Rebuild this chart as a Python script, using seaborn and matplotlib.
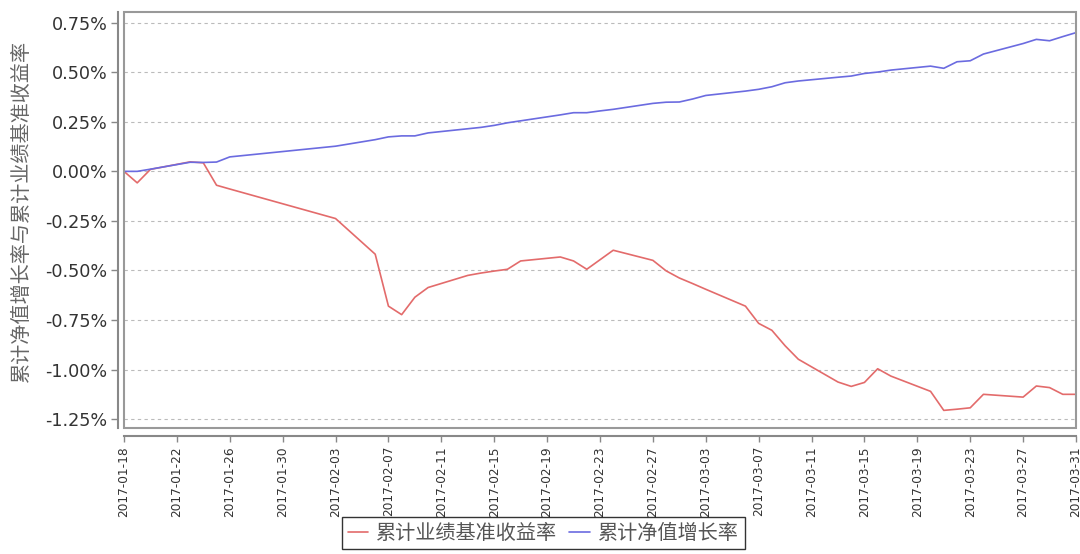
import pandas as pd
import matplotlib
matplotlib.use('Agg')
import matplotlib.pyplot as plt
import matplotlib.dates as mdates
from matplotlib.patches import Rectangle
import seaborn as sns

# trading days shown in the chart
dates = [
    '2017-01-18', '2017-01-19', '2017-01-20', '2017-01-23', '2017-01-24', '2017-01-25', '2017-01-26',
    '2017-02-03', '2017-02-06', '2017-02-07', '2017-02-08', '2017-02-09', '2017-02-10',
    '2017-02-13', '2017-02-14', '2017-02-15', '2017-02-16', '2017-02-17',
    '2017-02-20', '2017-02-21', '2017-02-22', '2017-02-23', '2017-02-24',
    '2017-02-27', '2017-02-28', '2017-03-01', '2017-03-02', '2017-03-03',
    '2017-03-06', '2017-03-07', '2017-03-08', '2017-03-09', '2017-03-10',
    '2017-03-13', '2017-03-14', '2017-03-15', '2017-03-16', '2017-03-17',
    '2017-03-20', '2017-03-21', '2017-03-22', '2017-03-23', '2017-03-24',
    '2017-03-27', '2017-03-28', '2017-03-29', '2017-03-30', '2017-03-31',
]

# cumulative benchmark return (%)
benchmark = [
    0.000, -0.058, 0.010, 0.048, 0.043, -0.070, -0.089,
    -0.238, -0.418, -0.680, -0.723, -0.635, -0.586,
    -0.525, -0.513, -0.503, -0.494, -0.452,
    -0.432, -0.452, -0.494, -0.446, -0.398,
    -0.449, -0.502, -0.538, -0.566, -0.595,
    -0.680, -0.767, -0.802, -0.880, -0.948,
    -1.063, -1.085, -1.065, -0.996, -1.033,
    -1.110, -1.206, -1.200, -1.193, -1.125,
    -1.139, -1.083, -1.091, -1.125, -1.125,
]

# cumulative NAV growth (%)
nav_growth = [
    0.000, 0.000, 0.011, 0.046, 0.045, 0.047, 0.073,
    0.127, 0.160, 0.174, 0.179, 0.179, 0.194,
    0.215, 0.222, 0.232, 0.245, 0.255,
    0.285, 0.296, 0.296, 0.305, 0.313,
    0.343, 0.349, 0.350, 0.365, 0.383,
    0.405, 0.414, 0.427, 0.447, 0.456,
    0.475, 0.481, 0.494, 0.501, 0.511,
    0.531, 0.520, 0.553, 0.558, 0.592,
    0.645, 0.666, 0.659, 0.680, 0.700,
]

series_names = ['累计业绩基准收益率', '累计净值增长率']
y_ticks = [0.75, 0.50, 0.25, 0.00, -0.25, -0.50, -0.75, -1.00, -1.25]

sns.set_style('white')
plt.rcParams['font.family'] = ['DejaVu Sans', 'Noto Sans CJK SC']

df = pd.DataFrame({
    'date': pd.to_datetime(dates * 2),
    'value': benchmark + nav_growth,
    'series': [series_names[0]] * len(dates) + [series_names[1]] * len(dates),
})

fig = plt.figure(figsize=(10.8, 5.54), dpi=100)
ax = fig.add_axes([0.1148, 0.2274, 0.8815, 0.7509])

red = '#e36b6b'
blue = '#6b6be0'
sns.lineplot(data=df, x='date', y='value', hue='series', hue_order=series_names,
             palette=[red, blue], linewidth=1.2, legend=False, ax=ax)

ax.set_xlim(pd.Timestamp('2017-01-18'), pd.Timestamp('2017-03-31'))
ax.set_ylim(-1.295, 0.804)

ax.set_xticks(pd.date_range('2017-01-18', '2017-03-31', freq='4D'))
ax.xaxis.set_major_formatter(mdates.DateFormatter('%Y-%m-%d'))
ax.set_yticks(y_ticks)
ax.set_yticklabels([f'{v:.2f}%' for v in y_ticks])

ax.tick_params(axis='x', labelrotation=90, labelsize=8.7, colors='#333333',
               length=4, width=1, color='#888888', bottom=True, pad=3)
ax.tick_params(axis='y', labelsize=12.7, colors='#333333',
               length=5, width=1, color='#888888', left=True, pad=3)

ax.yaxis.grid(True, linestyle=(0, (3, 3)), color='#bbbbbb', linewidth=0.8)
ax.xaxis.grid(False)

# offset axis lines plus a box around the plot area
for side in ['top', 'right']:
    ax.spines[side].set_visible(False)
ax.spines['left'].set_position(('outward', 4))
ax.spines['bottom'].set_position(('outward', 6))
for side in ['left', 'bottom']:
    ax.spines[side].set_color('#888888')
    ax.spines[side].set_linewidth(1.5)
ax.add_patch(Rectangle((0, 0), 1, 1, transform=ax.transAxes, fill=False,
                       edgecolor='#999999', linewidth=1.5, clip_on=False, zorder=5))

ax.set_xlabel('')
ax.set_ylabel('累计净值增长率与累计业绩基准收益率', fontsize=14.5, color='#666666')
ax.yaxis.set_label_coords(-0.098, 0.522)

handles = ax.get_lines()[:2]
leg = fig.legend(handles, series_names, loc='upper center', bbox_to_anchor=(0.503, 0.066),
                 ncol=2, frameon=True, fancybox=False, edgecolor='black', fontsize=14.5,
                 handlelength=1.0, handletextpad=0.4, columnspacing=0.6, borderpad=0.3,
                 borderaxespad=0)
leg.get_frame().set_linewidth(1.0)
for t in leg.get_texts():
    t.set_color('#555555')

fig.savefig('out.png', dpi=100)
